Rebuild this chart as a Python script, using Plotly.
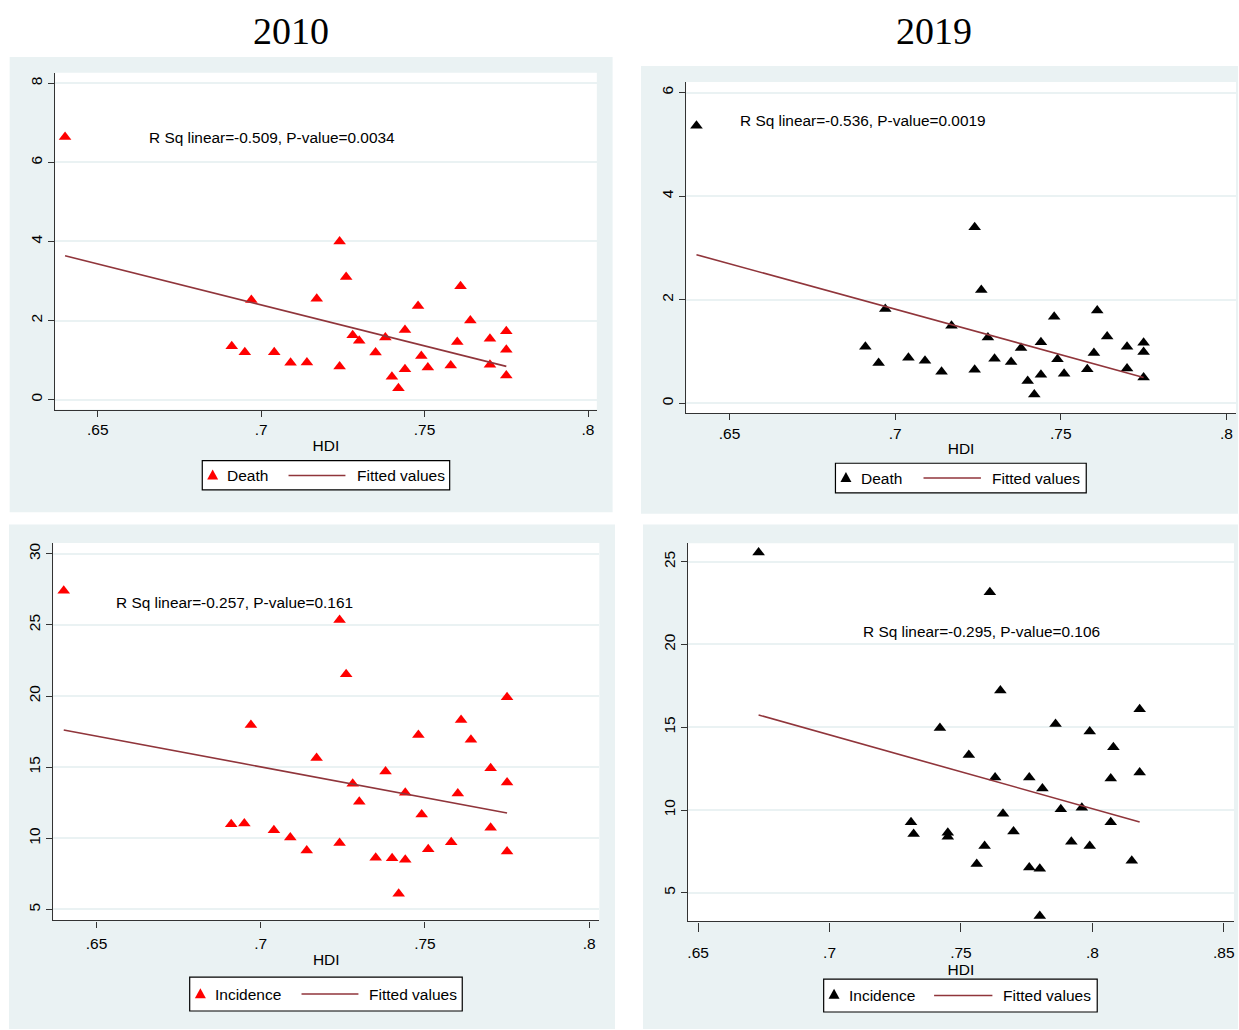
import plotly.graph_objects as go

W, H = 1239, 1030

# ---------------- data ----------------
hdi_2010 = [0.640, 0.691, 0.695, 0.697, 0.704, 0.709, 0.714, 0.717, 0.724, 0.724,
            0.726, 0.728, 0.730, 0.735, 0.738, 0.740, 0.742, 0.744, 0.744, 0.748,
            0.749, 0.751, 0.758, 0.760, 0.761, 0.764, 0.770, 0.770, 0.775, 0.775, 0.775]
death_2010 = [6.64, 1.35, 1.20, 2.52, 1.20, 0.93, 0.94, 2.55, 4.00, 0.84,
              3.10, 1.63, 1.49, 1.19, 1.57, 0.58, 0.29, 1.76, 0.77, 2.37,
              1.10, 0.81, 0.86, 1.46, 2.87, 2.00, 1.54, 0.88, 1.73, 1.26, 0.61]
death_2019 = [5.36, 1.09, 0.78, 1.82, 0.88, 0.82, 0.61, 1.50, 3.40, 0.65,
              2.19, 1.27, 0.86, 0.80, 1.07, 0.43, 0.17, 1.18, 0.55, 1.67,
              0.85, 0.57, 0.66, 0.97, 1.79, 1.29, 1.09, 0.67, 1.17, 0.99, 0.50]
incidence_2010 = [27.41, 10.98, 11.05, 17.97, 10.56, 10.05, 9.14, 15.65, 25.35, 9.67,
                  21.54, 13.83, 12.57, 8.64, 14.70, 8.60, 6.10, 13.20, 8.50, 17.27,
                  11.68, 9.23, 9.72, 13.15, 18.32, 16.92, 14.93, 10.75, 19.91, 13.93, 9.07]

hdi_2019_inc = [0.673, 0.731, 0.732, 0.742, 0.745, 0.745, 0.753, 0.756, 0.759, 0.761,
                0.763, 0.765, 0.766, 0.770, 0.776, 0.776, 0.780, 0.780, 0.781, 0.786,
                0.788, 0.792, 0.796, 0.799, 0.799, 0.807, 0.807, 0.808, 0.815, 0.818, 0.818]
incidence_2019 = [25.56, 9.26, 8.55, 14.96, 8.62, 8.39, 13.33, 6.74, 7.83, 23.15,
                  11.96, 17.22, 9.77, 8.70, 11.96, 6.53, 6.45, 3.60, 11.30, 15.19,
                  10.04, 8.08, 10.14, 14.75, 7.83, 11.90, 9.26, 13.79, 6.94, 16.09, 12.27]

# fitted-value lines (read at the ends of the data range)
fit_x_death = [0.640, 0.775]
fit_death_2010 = [3.64, 0.84]
fit_death_2019 = [2.87, 0.50]
fit_x_inc_2010 = [0.640, 0.775]
fit_inc_2010 = [17.62, 11.78]
fit_x_inc_2019 = [0.673, 0.818]
fit_inc_2019 = [15.74, 9.28]

stats_text = ["R Sq linear=-0.509, P-value=0.0034",
              "R Sq linear=-0.536, P-value=0.0019",
              "R Sq linear=-0.257, P-value=0.161",
              "R Sq linear=-0.295, P-value=0.106"]
year_titles = ["2010", "2019"]
legend_names = ["Death", "Death", "Incidence", "Incidence"]
fit_name = "Fitted values"

x_ticks_a = [0.65, 0.70, 0.75, 0.80]
x_ticktext_a = [".65", ".7", ".75", ".8"]
x_ticks_b = [0.65, 0.70, 0.75, 0.80, 0.85]
x_ticktext_b = [".65", ".7", ".75", ".8", ".85"]
y_ticks_1 = [0, 2, 4, 6, 8]
y_ticks_2 = [0, 2, 4, 6]
y_ticks_3 = [5, 10, 15, 20, 25, 30]
y_ticks_4 = [5, 10, 15, 20, 25]

# ---------------- style ----------------
RED = "#FF0000"
BLACK = "#000000"
FIT = "#90353B"
PANEL_BG = "#EAF2F3"
GRID = "#EAF2F3"
AXIS = "#333333"
FONT = "Liberation Sans"
FS = 15.5


def fx(px):
    return px / W


def fy(py):
    return 1 - py / H


panels = [
    dict(gray=(8.7, 56, 612.6, 511.7), plot=(54.2, 71.7, 596.8, 409.0),
         xr=[0.63696, 0.8027], yr=[-0.253, 8.27], xt=x_ticks_a, xtt=x_ticktext_a, yt=y_ticks_1,
         ticklen=6, xstand=0,
         leg=dict(box=(201.6, 460, 449.4, 489.3), tri=(212, 474.5), t1=224.5,
                  line=(288, 345), t2=354.5, cy=475)),
    dict(gray=(641, 65, 1239, 513.3), plot=(686.3, 81.0, 1237.0, 412.3),
         xr=[0.6369, 0.8029], yr=[-0.185, 6.206], xt=x_ticks_a, xtt=x_ticktext_a, yt=y_ticks_2,
         ticklen=6, xstand=0,
         leg=dict(box=(835.8, 462.7, 1087, 492.3), tri=(846.3, 477), t1=859,
                  line=(924, 981.5), t2=991, cy=477.5)),
    dict(gray=(8, 524, 615, 1029), plot=(52.3, 542.5, 599.3, 920.3),
         xr=[0.6368, 0.8031], yr=[4.23, 30.76], xt=x_ticks_a, xtt=x_ticktext_a, yt=y_ticks_3,
         ticklen=6, xstand=3,
         leg=dict(box=(189, 977, 462, 1011), tri=(199.7, 993.7), t1=212.7,
                  line=(301, 358), t2=367, cy=994)),
    dict(gray=(643, 524, 1239, 1029), plot=(688.0, 542.7, 1235.0, 921.3),
         xr=[0.6461, 0.8539], yr=[3.27, 26.12], xt=x_ticks_b, xtt=x_ticktext_b, yt=y_ticks_4,
         ticklen=9, xstand=8,
         leg=dict(box=(824, 979, 1098, 1012), tri=(834.4, 994.3), t1=847.8,
                  line=(934.6, 993), t2=1002, cy=995.5)),
]

series = [
    (hdi_2010, death_2010, RED, fit_x_death, fit_death_2010),
    (hdi_2010, death_2019, BLACK, fit_x_death, fit_death_2019),
    (hdi_2010, incidence_2010, RED, fit_x_inc_2010, fit_inc_2010),
    (hdi_2019_inc, incidence_2019, BLACK, fit_x_inc_2019, fit_inc_2019),
]

stats_pos = [(0.6651, 6.64), (0.6525, 5.47), (0.6553, 26.59), (0.7118, 20.78)]

fig = go.Figure()
shapes = []
annotations = []
layout = dict(width=W, height=H, margin=dict(l=0, r=0, t=0, b=0),
              paper_bgcolor="white", plot_bgcolor="rgba(0,0,0,0)", showlegend=False,
              font=dict(family=FONT, color="black", size=FS))

for i, (p, s) in enumerate(zip(panels, series)):
    n = i + 1
    xa = "x" if n == 1 else f"x{n}"
    ya = "y" if n == 1 else f"y{n}"
    xs, ys, col, fxv, fyv = s

    fig.add_trace(go.Scatter(x=xs, y=ys, mode="markers", name=legend_names[i],
                             xaxis=xa, yaxis=ya,
                             marker=dict(symbol="triangle-up", size=11, color=col,
                                         line=dict(width=0))))
    fig.add_trace(go.Scatter(x=fxv, y=fyv, mode="lines", name=fit_name,
                             xaxis=xa, yaxis=ya,
                             line=dict(color=FIT, width=1.6)))

    gx0, gy0, gx1, gy1 = p["gray"]
    shapes.append(dict(type="rect", xref="paper", yref="paper", layer="below",
                       x0=fx(gx0), x1=fx(gx1), y0=fy(gy1), y1=fy(gy0),
                       fillcolor=PANEL_BG, line=dict(width=0)))
    px0, py0, px1, py1 = p["plot"]
    shapes.append(dict(type="rect", xref="paper", yref="paper", layer="below",
                       x0=fx(px0), x1=fx(px1), y0=fy(py1), y1=fy(py0),
                       fillcolor="white", line=dict(width=0)))

    axis_common = dict(showline=True, linecolor=AXIS, linewidth=1.3, ticks="outside",
                       tickcolor=AXIS, tickwidth=1.2, zeroline=False,
                       tickfont=dict(family=FONT, size=FS, color="black"))
    layout[f"xaxis{'' if n == 1 else n}"] = dict(
        domain=[fx(px0), fx(px1)], range=p["xr"], anchor=ya, showgrid=False,
        tickmode="array", tickvals=p["xt"], ticktext=p["xtt"], ticklen=p["ticklen"],
        ticklabelstandoff=p["xstand"],
        title=dict(text="HDI", font=dict(family=FONT, size=FS), standoff=2),
        **axis_common)
    layout[f"yaxis{'' if n == 1 else n}"] = dict(
        domain=[fy(py1), fy(py0)], range=p["yr"], anchor=xa, showgrid=True,
        gridcolor=GRID, gridwidth=1.5, tickmode="array", tickvals=p["yt"],
        ticktext=[str(v) for v in p["yt"]], tickangle=-90, ticklen=6, **axis_common)

    # legend box (Stata style)
    lg = p["leg"]
    bx0, by0, bx1, by1 = lg["box"]
    shapes.append(dict(type="rect", xref="paper", yref="paper", layer="above",
                       x0=fx(bx0), x1=fx(bx1), y0=fy(by1), y1=fy(by0),
                       fillcolor="white", line=dict(color="black", width=1.2)))
    tx, ty = lg["tri"]
    shapes.append(dict(type="path", xref="paper", yref="paper", layer="above",
                       path=(f"M {fx(tx - 5.5)},{fy(ty + 4.5)} L {fx(tx + 5.5)},{fy(ty + 4.5)} "
                             f"L {fx(tx)},{fy(ty - 5.5)} Z"),
                       fillcolor=col, line=dict(width=0)))
    l0, l1 = lg["line"]
    shapes.append(dict(type="line", xref="paper", yref="paper", layer="above",
                       x0=fx(l0), x1=fx(l1), y0=fy(lg["cy"]), y1=fy(lg["cy"]),
                       line=dict(color=FIT, width=1.6)))
    annotations.append(dict(x=fx(lg["t1"]), y=fy(lg["cy"]), xref="paper", yref="paper",
                            text=legend_names[i], showarrow=False, xanchor="left",
                            yanchor="middle", font=dict(family=FONT, size=FS, color="black")))
    annotations.append(dict(x=fx(lg["t2"]), y=fy(lg["cy"]), xref="paper", yref="paper",
                            text=fit_name, showarrow=False, xanchor="left",
                            yanchor="middle", font=dict(family=FONT, size=FS, color="black")))

    sx, sy = stats_pos[i]
    annotations.append(dict(x=sx, y=sy, xref=xa, yref=ya, text=stats_text[i],
                            showarrow=False, xanchor="left", yanchor="middle",
                            font=dict(family=FONT, size=15.4, color="black")))

annotations.append(dict(x=fx(290), y=fy(30), xref="paper", yref="paper", text=year_titles[0],
                        showarrow=False, xanchor="center", yanchor="middle",
                        font=dict(family="Liberation Serif", size=38, color="black")))
annotations.append(dict(x=fx(935), y=fy(30), xref="paper", yref="paper", text=year_titles[1],
                        showarrow=False, xanchor="center", yanchor="middle",
                        font=dict(family="Liberation Serif", size=38, color="black")))

layout["shapes"] = shapes
layout["annotations"] = annotations
fig.update_layout(**layout)

fig.write_html("out.html", config={"displayModeBar": False},
               post_script="document.body.style.margin='0px';")
